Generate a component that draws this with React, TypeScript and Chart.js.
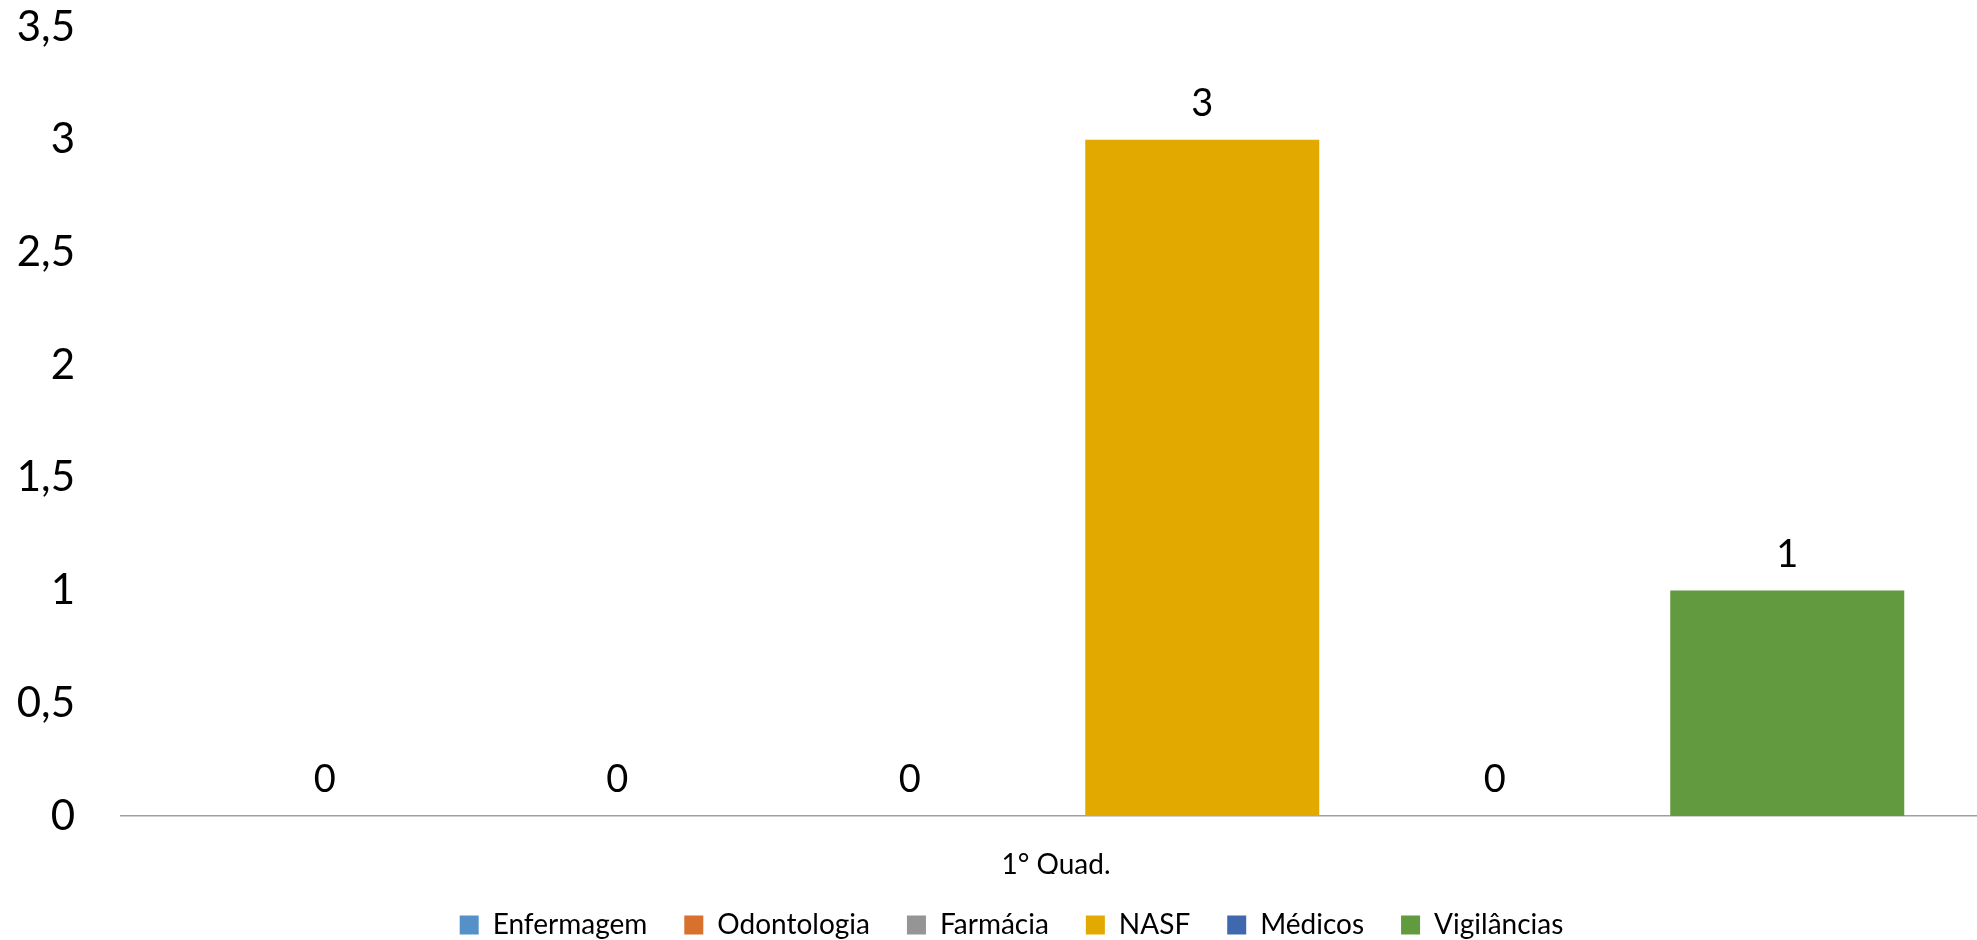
import React, { useEffect, useRef } from "react";
import { Chart, registerables } from "chart.js";

Chart.register(...registerables);

const categories = ["1° Quad."];
const seriesNames = ["Enfermagem", "Odontologia", "Farmácia", "NASF", "Médicos", "Vigilâncias"];
const enfermagem = [0];
const odontologia = [0];
const farmacia = [0];
const nasf = [3];
const medicos = [0];
const vigilancias = [1];
const seriesColors = ["#5591C8", "#D7712D", "#959595", "#E2AA00", "#4068AF", "#629A3F"];
const yTicks = [0, 0.5, 1, 1.5, 2, 2.5, 3, 3.5];

const FONT = "Lato, 'Open Sans', sans-serif";
const CANVAS_W = 1991;
const CANVAS_H = 949;
const PLOT_BOTTOM = 816;
const PLOT_LEFT = 121;
const LEGEND_SHIFT = 16;
const LEGEND_PAD = 37;
const LEGEND_FONT = 28;

const valueLabels = {
  id: "valueLabels",
  afterDatasetsDraw(chart: any) {
    const ctx = chart.ctx;
    ctx.save();
    ctx.font = `38px ${FONT}`;
    ctx.fillStyle = "#000000";
    ctx.textAlign = "center";
    ctx.textBaseline = "middle";
    chart.data.datasets.forEach((ds: any, i: number) => {
      const meta = chart.getDatasetMeta(i);
      meta.data.forEach((bar: any, j: number) => {
        const v = ds.data[j];
        ctx.fillText(String(v).replace(".", ","), bar.x, bar.y - 36);
      });
    });
    ctx.restore();
  },
};

const legendShift = {
  id: "legendShift",
  afterLayout(chart: any) {
    const lg = chart.legend;
    if (lg) {
      lg.left += LEGEND_SHIFT;
      lg.right += LEGEND_SHIFT;
    }
  },
};

export default function App() {
  const ref = useRef<HTMLCanvasElement | null>(null);

  useEffect(() => {
    document.body.style.margin = "0";
    const canvas = ref.current;
    if (!canvas) return;
    const allSeries = [enfermagem, odontologia, farmacia, nasf, medicos, vigilancias];
    const chart = new Chart(canvas, {
      type: "bar",
      data: {
        labels: categories,
        datasets: allSeries.map((d, i) => ({
          label: seriesNames[i],
          data: d,
          backgroundColor: seriesColors[i],
          borderWidth: 0,
          categoryPercentage: 0.9385,
          barPercentage: 0.8,
        })),
      },
      options: {
        responsive: false,
        animation: false,
        devicePixelRatio: 1,
        events: [],
        layout: { padding: { top: 27, left: 0, right: 0, bottom: 0 } },
        plugins: {
          legend: {
            position: "bottom",
            labels: {
              boxWidth: 19,
              boxHeight: 19,
              padding: LEGEND_PAD,
              color: "#000000",
              font: { family: FONT, size: LEGEND_FONT },
            },
          },
          tooltip: { enabled: false },
          title: { display: false },
        },
        scales: {
          x: {
            grid: { display: false },
            border: { display: true, color: "#A0A0A0", width: 1.5 },
            ticks: {
              color: "#000000",
              padding: 24,
              font: { family: FONT, size: 28 },
            },
            afterFit(scale: any) {
              scale.height = CANVAS_H - (LEGEND_FONT + LEGEND_PAD + 10) - PLOT_BOTTOM;
              scale.paddingLeft = 0;
              scale.paddingRight = 0;
            },
          },
          y: {
            min: 0,
            max: 3.5,
            grid: { display: false, drawTicks: false },
            border: { display: false },
            afterBuildTicks(scale: any) {
              scale.ticks = yTicks.map((v) => ({ value: v }));
            },
            ticks: {
              color: "#000000",
              padding: 46,
              font: { family: FONT, size: 42 },
              callback: (v: any) => String(v).replace(".", ","),
            },
            afterFit(scale: any) {
              scale.width = PLOT_LEFT;
              scale.paddingTop = 0;
              scale.paddingBottom = 0;
            },
          },
        },
      },
      plugins: [valueLabels, legendShift],
    });
    return () => chart.destroy();
  }, []);

  return (
    <div style={{ width: 1977, height: 940, overflow: "hidden", background: "#ffffff" }}>
      <canvas ref={ref} width={CANVAS_W} height={CANVAS_H} style={{ display: "block" }} />
    </div>
  );
}
